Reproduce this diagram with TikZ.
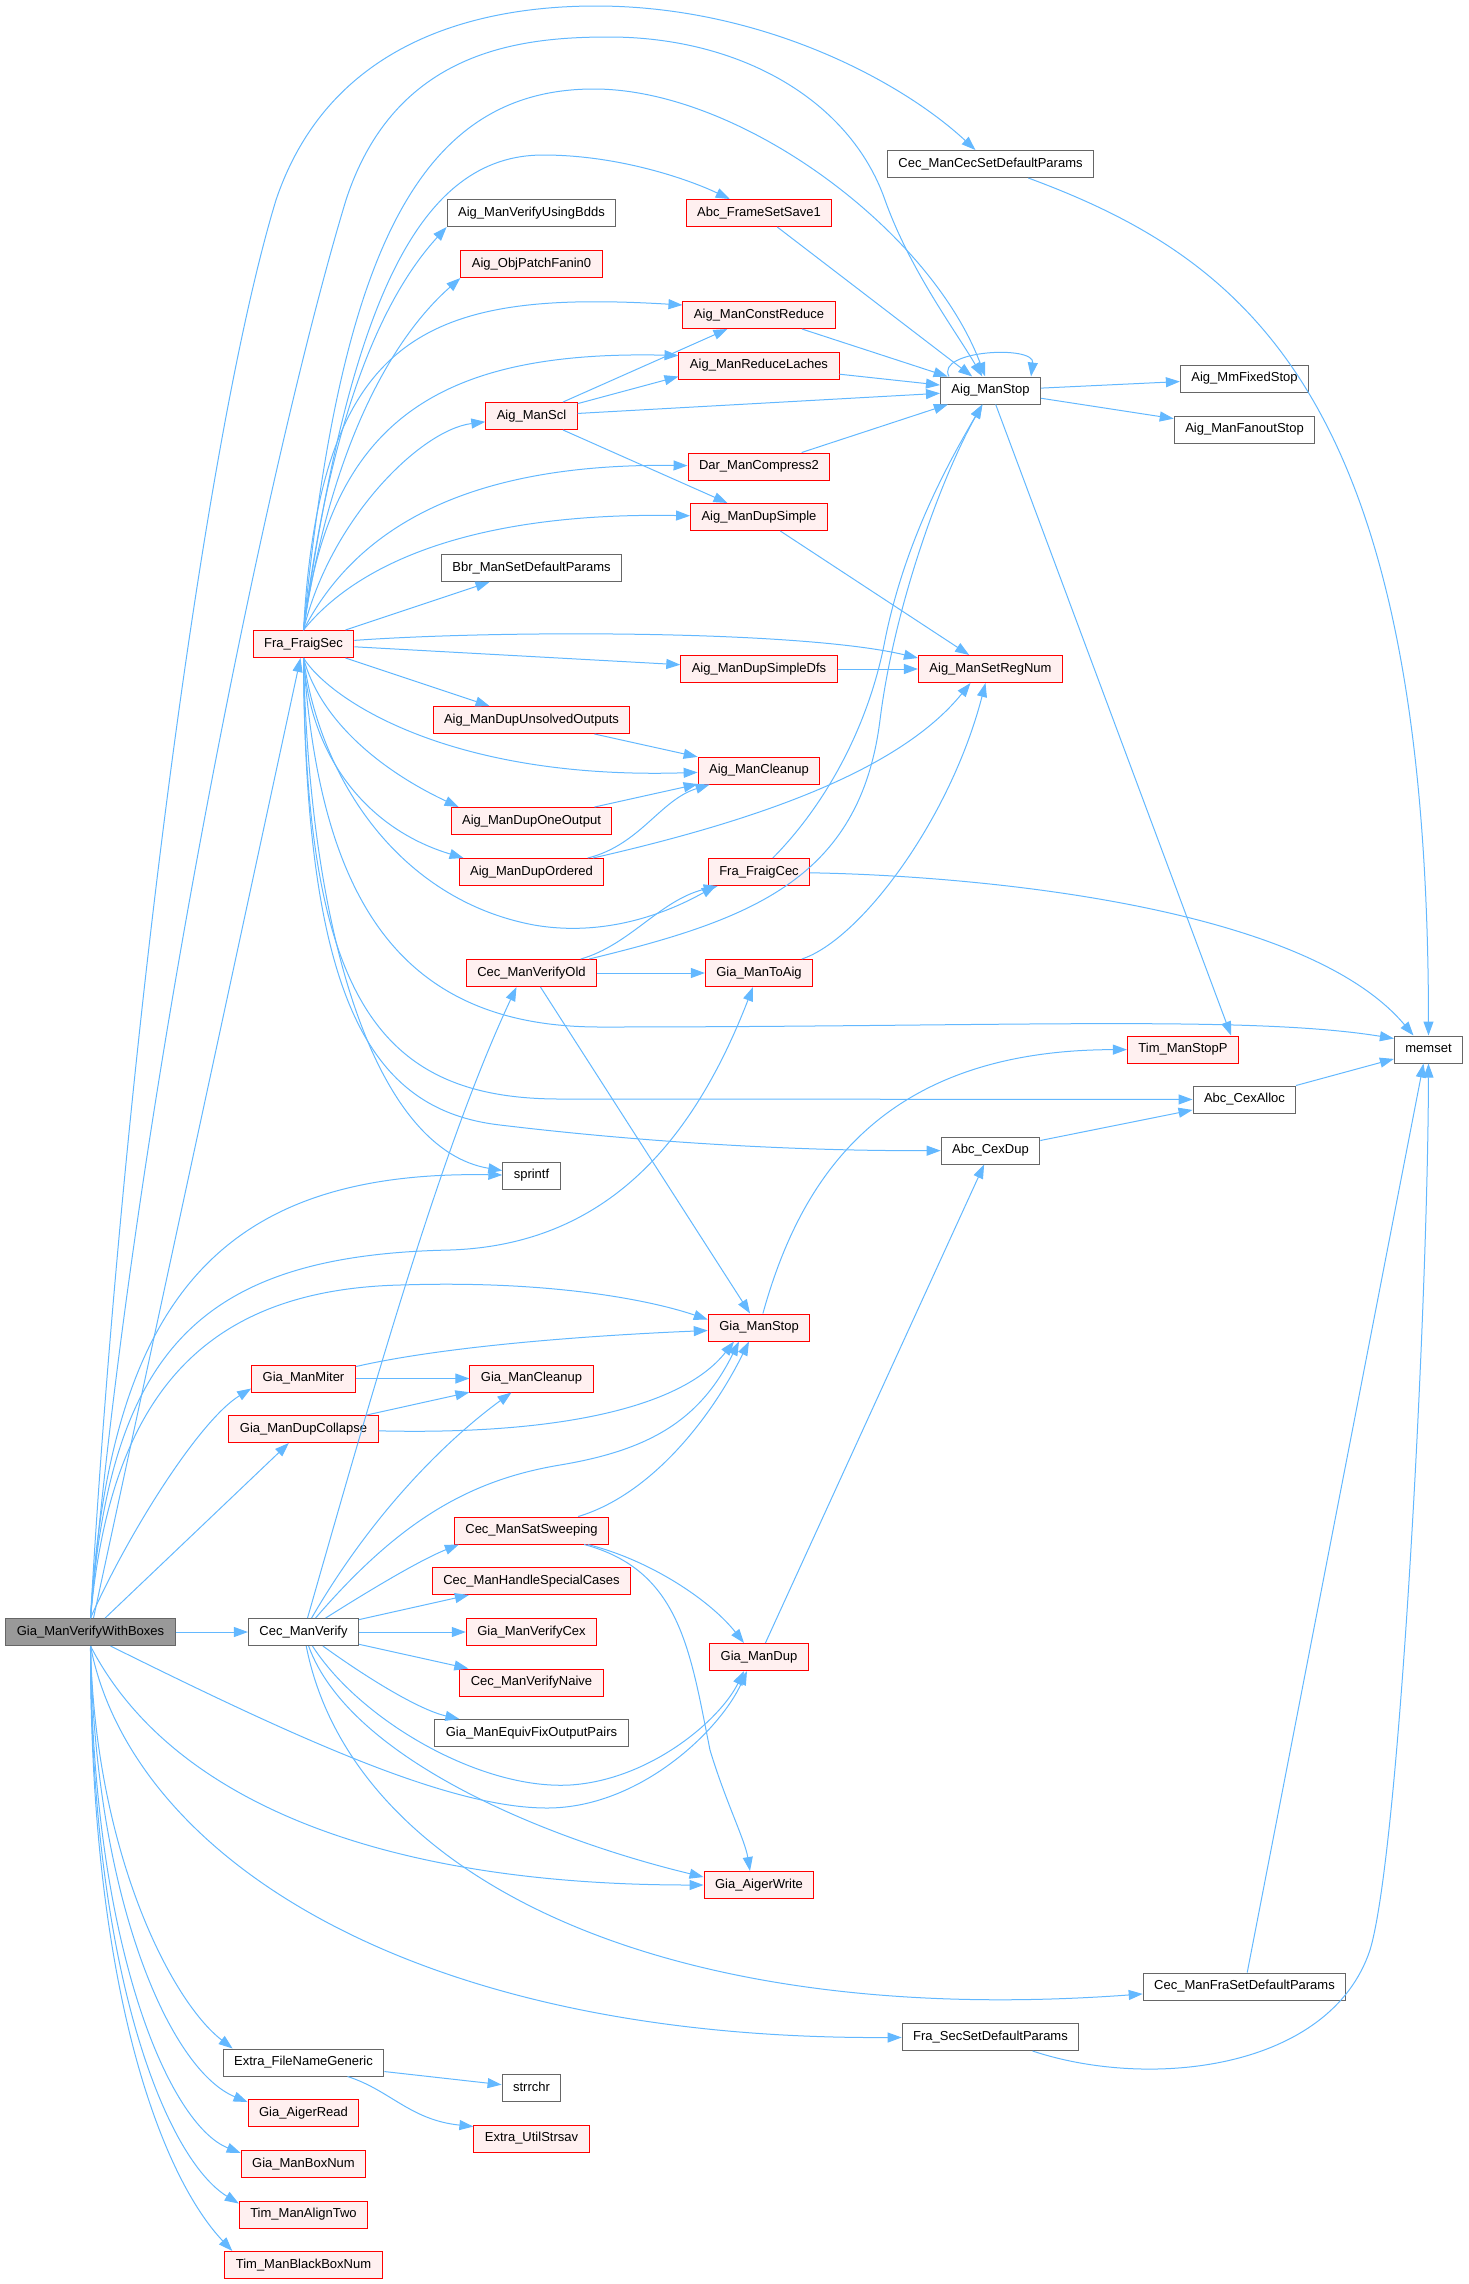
\documentclass[tikz,border=0pt]{standalone}
\usepackage{fontspec}
\setmainfont{Liberation Sans}
\usetikzlibrary{arrows.meta}
\definecolor{edgeblue}{RGB}{99,184,255}
\definecolor{greyline}{RGB}{102,102,102}
\definecolor{rootfill}{RGB}{153,153,153}
\definecolor{hitfill}{RGB}{255,240,240}

\begin{document}
\begin{tikzpicture}[x=1pt,y=-1pt,
box/.style={draw=greyline,fill=white,line width=1pt,inner xsep=11pt,inner ysep=0pt,minimum height=27pt,text height=9.4pt,text depth=2.8pt,font=\fontsize{13}{15}\selectfont},
hit/.style={box,draw=red,fill=hitfill},
main/.style={box,fill=rootfill},
arr/.style={-{Triangle[length=14pt,width=10pt]},line width=1pt,draw=edgeblue}]
\useasboundingbox(0,0)rectangle(1468,2284);

\node[main](root)at(90.5,1632){Gia\_ManVerifyWithBoxes};
\node[hit](fsec)at(303.5,644){Fra\_FraigSec};
\node[hit](gmiter)at(303.5,1378.5){Gia\_ManMiter};
\node[hit](gdcol)at(303.5,1429){Gia\_ManDupCollapse};
\node[box](cv)at(303.5,1632){Cec\_ManVerify};
\node[box](efng)at(303.5,2062.5){Extra\_FileNameGeneric};
\node[hit](garead)at(303.5,2113){Gia\_AigerRead};
\node[hit](gbox)at(303.5,2164){Gia\_ManBoxNum};
\node[hit](talign)at(303.5,2214.5){Tim\_ManAlignTwo};
\node[hit](tbbox)at(303.5,2265){Tim\_ManBlackBoxNum};

\node[box](avbdd)at(531.5,213){Aig\_ManVerifyUsingBdds};
\node[hit](apatch)at(531.5,264){Aig\_ObjPatchFanin0};
\node[hit](ascl)at(531.5,416){Aig\_ManScl};
\node[box](bbr)at(531.5,568){Bbr\_ManSetDefaultParams};
\node[hit](aduo)at(531.5,720){Aig\_ManDupUnsolvedOutputs};
\node[hit](adoo)at(531.5,821){Aig\_ManDupOneOutput};
\node[hit](adord)at(531.5,872){Aig\_ManDupOrdered};
\node[hit](cvold)at(531.5,973){Cec\_ManVerifyOld};
\node[box](sprintf)at(531.5,1175.5){sprintf};
\node[hit](gclean)at(531.5,1378.5){Gia\_ManCleanup};
\node[hit](css)at(531.5,1530.5){Cec\_ManSatSweeping};
\node[hit](chsc)at(531.5,1581){Cec\_ManHandleSpecialCases};
\node[hit](gvcex)at(531.5,1632){Gia\_ManVerifyCex};
\node[hit](cvn)at(531.5,1682.5){Cec\_ManVerifyNaive};
\node[box](gefop)at(531.5,1733){Gia\_ManEquivFixOutputPairs};
\node[box](strrchr)at(531.5,2088){strrchr};
\node[hit](eus)at(531.5,2138.5){Extra\_UtilStrsav};

\node[hit](afss)at(759,213){Abc\_FrameSetSave1};
\node[hit](acr)at(759,315){Aig\_ManConstReduce};
\node[hit](arl)at(759,365.5){Aig\_ManReduceLaches};
\node[hit](dar)at(759,466.5){Dar\_ManCompress2};
\node[hit](ads)at(759,517){Aig\_ManDupSimple};
\node[hit](adsd)at(759,669){Aig\_ManDupSimpleDfs};
\node[hit](aclean)at(759,770.5){Aig\_ManCleanup};
\node[hit](fcec)at(759,872){Fra\_FraigCec};
\node[hit](gtoaig)at(759,973){Gia\_ManToAig};
\node[hit](gstop)at(759,1327.5){Gia\_ManStop};
\node[hit](gdup)at(759,1657){Gia\_ManDup};
\node[hit](gawrite)at(759,1885){Gia\_AigerWrite};

\node[box](cecpar)at(990.5,164){Cec\_ManCecSetDefaultParams};
\node[box](astop)at(990.5,390.5){Aig\_ManStop};
\node[hit](asrn)at(990.5,669){Aig\_ManSetRegNum};
\node[box](cexdup)at(990.5,1150.5){Abc\_CexDup};
\node[box](fssdp)at(990.5,2037){Fra\_SecSetDefaultParams};

\node[box](mmfix)at(1244.5,378.5){Aig\_MmFixedStop};
\node[box](afan)at(1244.5,429.5){Aig\_ManFanoutStop};
\node[hit](tstop)at(1183,1049.5){Tim\_ManStopP};
\node[box](cexalloc)at(1244.5,1099.5){Abc\_CexAlloc};
\node[box](cfsdp)at(1244.5,1986.5){Cec\_ManFraSetDefaultParams};
\node[box](memset)at(1428.5,1049.5){memset};

\draw[arr](root.north)..controls(120,1100)and(200,450)..(276,200)..controls(330,40)and(480,6)..(596,6)..controls(760,6)and(900,80)..(cecpar);
\draw[arr](root.north)..controls(135,1100)and(270,450)..(346,200)..controls(395,50)and(520,37)..(609,37)..controls(740,37)and(850,100)..(885,200)..controls(910,270)and(955,330)..(astop);
\draw[arr](root)--(fsec);
\draw[arr](root.north)..controls(110,1300)and(220,1170)..(sprintf);
\draw[arr](root.north)..controls(110,1350)and(200,1255)..(450,1250)..controls(600,1245)and(690,1150)..([xshift=-6pt]gtoaig.south);
\draw[arr](root.north)..controls(110,1400)and(200,1290)..(400,1285)..controls(550,1280)and(650,1300)..([yshift=8pt]gstop.west);
\draw[arr](root.north)..controls(130,1530)and(200,1420)..([yshift=4pt]gmiter.south west);
\draw[arr](root)--(gdcol);
\draw[arr](root)--(cv);
\draw[arr]([xshift=20pt]root.south)..controls(300,1740)and(450,1808)..(547,1808)..controls(640,1808)and(720,1730)..([xshift=-12pt]gdup.south);
\draw[arr](root.south)..controls(170,1800)and(380,1885)..(gawrite);
\draw[arr](root.south)..controls(130,1850)and(400,2040)..(fssdp);
\draw[arr](root.south)..controls(95,1850)and(170,2000)..([xshift=10pt]efng.north west);
\draw[arr](root.south)..controls(95,1900)and(170,2070)..([yshift=-3pt]garead.north west);
\draw[arr](root.south)..controls(92,1950)and(170,2125)..([yshift=-3pt]gbox.north west);
\draw[arr](root.south)..controls(91,1980)and(168,2160)..([yshift=-3pt]talign.north west);
\draw[arr](root.south)..controls(90,2000)and(165,2180)..([xshift=8pt]tbbox.north west);

\draw[arr](fsec.north)..controls(340,250)and(420,89)..(594,89)..controls(740,89)and(930,230)..(astop);
\draw[arr](fsec.north)..controls(350,300)and(420,155)..(543,155)..controls(620,155)and(690,180)..(afss);
\draw[arr](fsec.north)..controls(330,420)and(380,300)..(avbdd.south west);
\draw[arr](fsec.north)..controls(330,450)and(390,340)..(apatch.south west);
\draw[arr](fsec.north)..controls(320,330)and(430,290)..([yshift=-4pt]acr.north west);
\draw[arr](fsec.north)..controls(330,420)and(440,350)..([yshift=-4pt]arl.north west);
\draw[arr](fsec.north)..controls(330,520)and(420,430)..(ascl);
\draw[arr](fsec.north)..controls(360,520)and(480,463)..(dar);
\draw[arr](fsec.north)..controls(360,560)and(480,512)..(ads);
\draw[arr](fsec)--(bbr);
\draw[arr](fsec)..controls(500,630)and(800,630)..([yshift=-3pt]asrn.north west);
\draw[arr](fsec)--(adsd);
\draw[arr](fsec)--(aduo);
\draw[arr](fsec.south)..controls(330,700)and(450,780)..(aclean);
\draw[arr](fsec.south)..controls(320,720)and(380,770)..([xshift=8pt]adoo.north west);
\draw[arr](fsec.south)..controls(310,760)and(370,830)..([xshift=5pt]adord.north west);
\draw[arr](fsec.south)..controls(320,780)and(400,900)..(534,925)..controls(620,940)and(690,900)..([xshift=8pt]fcec.south west);
\draw[arr](fsec.south)..controls(320,900)and(400,1027)..(600,1027)..controls(1000,1027)and(1250,1015)..([yshift=-3pt]memset.north west);
\draw[arr](fsec.south)..controls(305,1000)and(380,1099)..(560,1099)--(cexalloc);
\draw[arr](fsec.south)..controls(305,1000)and(370,1110)..(500,1125)..controls(650,1143)and(800,1151)..(cexdup);
\draw[arr](fsec.south)..controls(310,950)and(380,1150)..(sprintf);

\draw[arr](cv)..controls(370,1400)and(440,1150)..([xshift=-15pt]cvold.south);
\draw[arr](cv)..controls(380,1500)and(460,1430)..([xshift=-20pt]gclean.south);
\draw[arr](cv)..controls(400,1520)and(470,1480)..(560,1465)..controls(650,1450)and(700,1420)..([xshift=-20pt]gstop.south);
\draw[arr](cv)..controls(370,1590)and(420,1560)..([xshift=5pt]css.south west);
\draw[arr](cv)--(chsc);
\draw[arr](cv)--(gvcex);
\draw[arr](cv)--(cvn);
\draw[arr](cv)..controls(370,1680)and(420,1710)..([xshift=25pt]gefop.north west);
\draw[arr](cv)..controls(360,1720)and(480,1790)..(570,1785)..controls(650,1780)and(720,1720)..([xshift=-15pt]gdup.south);
\draw[arr](cv)..controls(350,1760)and(550,1840)..([yshift=-6pt]gawrite.north west);
\draw[arr](cv)..controls(350,1870)and(650,2030)..(cfsdp);

\draw[arr](gmiter)--(gclean);
\draw[arr](gmiter)..controls(450,1345)and(600,1335)..([yshift=-3pt]gstop.west);
\draw[arr](gdcol)--(gclean);
\draw[arr](gdcol)..controls(550,1435)and(680,1410)..([xshift=-25pt]gstop.south);
\draw[arr](css)..controls(650,1495)and(710,1420)..([xshift=-10pt]gstop.south);
\draw[arr](css)..controls(650,1560)and(710,1600)..([xshift=-15pt]gdup.north);
\draw[arr](css)..controls(680,1570)and(690,1650)..(710,1750)..controls(725,1800)and(745,1840)..([xshift=-9pt]gawrite.north);

\draw[arr](cvold)..controls(630,945)and(660,900)..([xshift=10pt]fcec.south west);
\draw[arr](cvold)--(gtoaig);
\draw[arr](cvold)--(gstop);
\draw[arr](cvold)..controls(750,920)and(860,880)..(880,720)..controls(895,600)and(945,470)..(astop);
\draw[arr](fcec)..controls(830,800)and(870,720)..(885,640)..controls(905,540)and(950,460)..(astop);
\draw[arr](fcec)..controls(950,875)and(1300,900)..([xshift=-15pt]memset.north);
\draw[arr](gtoaig)..controls(860,940)and(950,820)..([xshift=-5pt]asrn.south);
\draw[arr](adord)..controls(640,845)and(660,800)..([xshift=12pt]aclean.south west);
\draw[arr](adord)..controls(760,820)and(900,770)..([xshift=-20pt]asrn.south);
\draw[arr](adoo)--(aclean);
\draw[arr](aduo)--(aclean);
\draw[arr](adsd)--(asrn);
\draw[arr](ads)--(asrn);

\draw[arr](ascl)--(acr);
\draw[arr](ascl)--([yshift=3pt]arl.south west);
\draw[arr](ascl)--(astop);
\draw[arr](ascl)--(ads);
\draw[arr](afss)--(astop);
\draw[arr](acr)--(astop);
\draw[arr](arl)--(astop);
\draw[arr](dar)--(astop);
\draw[arr]([xshift=9pt]astop.north west)..controls(935,350)and(1035,345)..([xshift=-10pt]astop.north east);
\draw[arr](astop)--(mmfix);
\draw[arr](astop)--(afan);
\draw[arr](astop)--([xshift=-8pt]tstop.north east);

\draw[arr](cecpar)..controls(1250,260)and(1428,400)..(memset);
\draw[arr](gstop)..controls(800,1180)and(880,1050)..(tstop);
\draw[arr](gdup)--(cexdup);
\draw[arr](cexdup)--(cexalloc);
\draw[arr](cexalloc)--(memset);
\draw[arr](cfsdp)--([xshift=-5pt]memset.south);
\draw[arr](fssdp)..controls(1150,2090)and(1330,2070)..(1370,1950)..controls(1400,1850)and(1428,1300)..(memset);
\draw[arr](efng)--(strrchr);
\draw[arr](efng)..controls(390,2090)and(410,2120)..([yshift=-2pt]eus.north west);
\end{tikzpicture}
\end{document}
